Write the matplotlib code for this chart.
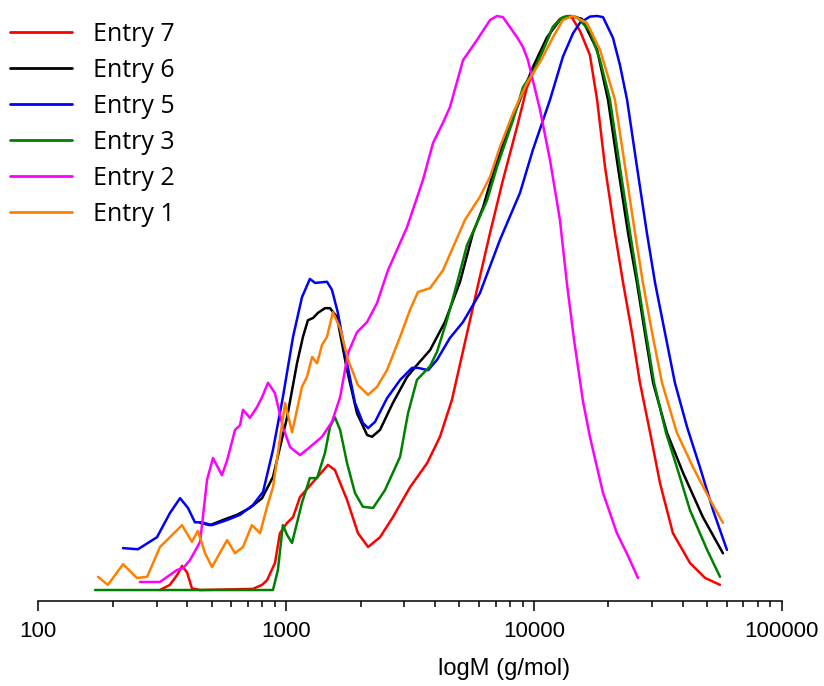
import matplotlib
matplotlib.use('Agg')
from matplotlib import pyplot as plt
from matplotlib.ticker import LogLocator, FixedLocator, NullFormatter
import numpy as np

# molar mass distributions, x = log10(M / g mol-1), y = normalised detector response
LABELS = ['Entry 7', 'Entry 6', 'Entry 5', 'Entry 3', 'Entry 2', 'Entry 1']
COLORS = ['#ff0000', '#000000', '#0000ff', '#008000', '#ff00ff', '#ff8000']

entry7_logm = [2.491, 2.531, 2.560, 2.580, 2.600, 2.620, 2.653, 2.866, 2.903, 2.923,
               2.955, 2.975, 3.004, 3.028, 3.056, 3.117, 3.169, 3.197, 3.246, 3.290,
               3.331, 3.379, 3.431, 3.500, 3.569, 3.621, 3.669, 3.710, 3.770, 3.823,
               3.875, 3.932, 3.972, 4.025, 4.077, 4.105, 4.134, 4.154, 4.186, 4.226,
               4.255, 4.287, 4.327, 4.360, 4.396, 4.428, 4.469, 4.509, 4.561, 4.630,
               4.691, 4.751]
entry7_w = [0, 0.009, 0.026, 0.042, 0.031, 0.003, 0, 0.002, 0.009, 0.017,
            0.047, 0.099, 0.117, 0.127, 0.162, 0.192, 0.218, 0.209, 0.157, 0.099,
            0.075, 0.092, 0.127, 0.179, 0.221, 0.267, 0.331, 0.409, 0.523, 0.622,
            0.714, 0.807, 0.876, 0.929, 0.981, 0.995, 1.0, 0.997, 0.974, 0.932,
            0.854, 0.737, 0.622, 0.535, 0.448, 0.361, 0.274, 0.186, 0.099, 0.047,
            0.021, 0.009]

entry6_logm = [2.653, 2.693, 2.745, 2.802, 2.854, 2.903, 2.947, 3.004, 3.044, 3.068,
               3.088, 3.109, 3.129, 3.157, 3.177, 3.205, 3.246, 3.286, 3.327, 3.347,
               3.379, 3.431, 3.488, 3.528, 3.581, 3.641, 3.702, 3.754, 3.795, 3.835,
               3.891, 3.944, 3.996, 4.053, 4.105, 4.146, 4.194, 4.255, 4.299, 4.339,
               4.380, 4.416, 4.448, 4.481, 4.537, 4.602, 4.682, 4.763]
entry6_w = [0.117, 0.113, 0.122, 0.131, 0.143, 0.160, 0.197, 0.301, 0.395, 0.441,
            0.470, 0.474, 0.483, 0.491, 0.491, 0.476, 0.383, 0.308, 0.270, 0.267,
            0.279, 0.326, 0.371, 0.392, 0.418, 0.467, 0.537, 0.622, 0.667, 0.726,
            0.796, 0.854, 0.911, 0.963, 0.993, 1.0, 0.995, 0.941, 0.854, 0.737,
            0.622, 0.535, 0.448, 0.361, 0.274, 0.204, 0.127, 0.064]

entry5_logm = [2.342, 2.402, 2.479, 2.531, 2.572, 2.604, 2.632, 2.661, 2.701, 2.762,
               2.814, 2.866, 2.907, 2.947, 2.987, 3.028, 3.064, 3.096, 3.117, 3.165,
               3.185, 3.209, 3.246, 3.278, 3.310, 3.331, 3.359, 3.407, 3.460, 3.508,
               3.532, 3.573, 3.609, 3.661, 3.714, 3.782, 3.863, 3.944, 3.996, 4.065,
               4.117, 4.158, 4.186, 4.226, 4.255, 4.279, 4.319, 4.347, 4.376, 4.416,
               4.456, 4.489, 4.529, 4.569, 4.618, 4.670, 4.723, 4.779]
entry5_w = [0.073, 0.071, 0.092, 0.134, 0.160, 0.143, 0.118, 0.118, 0.113, 0.122,
            0.131, 0.148, 0.171, 0.244, 0.336, 0.441, 0.510, 0.542, 0.535, 0.537,
            0.523, 0.483, 0.395, 0.326, 0.291, 0.282, 0.293, 0.334, 0.366, 0.387,
            0.387, 0.383, 0.401, 0.439, 0.467, 0.517, 0.610, 0.692, 0.767, 0.854,
            0.929, 0.970, 0.988, 0.999, 1.0, 0.998, 0.962, 0.915, 0.854, 0.737,
            0.622, 0.535, 0.448, 0.361, 0.284, 0.214, 0.139, 0.070]

entry3_logm = [2.229, 2.947, 2.967, 2.987, 3.004, 3.024, 3.064, 3.096, 3.125, 3.157,
               3.177, 3.197, 3.218, 3.246, 3.278, 3.310, 3.351, 3.399, 3.460, 3.492,
               3.528, 3.581, 3.609, 3.649, 3.690, 3.730, 3.770, 3.811, 3.851, 3.916,
               3.956, 3.996, 4.037, 4.077, 4.117, 4.150, 4.174, 4.226, 4.267, 4.307,
               4.347, 4.388, 4.420, 4.452, 4.485, 4.533, 4.577, 4.630, 4.699, 4.751]
entry3_w = [0, 0, 0.035, 0.113, 0.096, 0.082, 0.152, 0.195, 0.195, 0.239,
            0.284, 0.301, 0.279, 0.221, 0.169, 0.145, 0.143, 0.174, 0.232, 0.308,
            0.366, 0.390, 0.415, 0.470, 0.535, 0.601, 0.639, 0.679, 0.737, 0.819,
            0.876, 0.902, 0.941, 0.981, 0.998, 1.0, 0.998, 0.974, 0.923, 0.854,
            0.737, 0.622, 0.535, 0.448, 0.361, 0.274, 0.214, 0.139, 0.070, 0.023]

entry2_logm = [2.410, 2.491, 2.560, 2.584, 2.612, 2.653, 2.681, 2.705, 2.741, 2.762,
               2.794, 2.814, 2.826, 2.854, 2.883, 2.903, 2.927, 2.955, 2.987, 3.016,
               3.056, 3.096, 3.145, 3.185, 3.218, 3.250, 3.286, 3.327, 3.367, 3.411,
               3.488, 3.552, 3.593, 3.633, 3.661, 3.714, 3.770, 3.823, 3.851, 3.875,
               3.932, 3.956, 3.976, 4.025, 4.065, 4.105, 4.134, 4.162, 4.198, 4.226,
               4.279, 4.335, 4.376, 4.420]
entry2_w = [0.014, 0.014, 0.035, 0.038, 0.052, 0.084, 0.192, 0.230, 0.200, 0.226,
            0.279, 0.287, 0.314, 0.300, 0.319, 0.336, 0.361, 0.343, 0.284, 0.249,
            0.235, 0.249, 0.267, 0.293, 0.336, 0.413, 0.449, 0.467, 0.500, 0.557,
            0.632, 0.714, 0.779, 0.814, 0.841, 0.923, 0.958, 0.993, 1.0, 0.998,
            0.963, 0.946, 0.923, 0.836, 0.749, 0.645, 0.531, 0.436, 0.329, 0.267,
            0.169, 0.099, 0.063, 0.021]

entry1_logm = [2.241, 2.281, 2.342, 2.398, 2.439, 2.491, 2.531, 2.580, 2.620, 2.644,
               2.673, 2.701, 2.762, 2.794, 2.826, 2.862, 2.895, 2.923, 2.947, 2.967,
               2.996, 3.024, 3.044, 3.064, 3.084, 3.105, 3.125, 3.145, 3.165, 3.189,
               3.218, 3.250, 3.290, 3.331, 3.367, 3.407, 3.460, 3.500, 3.532, 3.581,
               3.633, 3.722, 3.782, 3.823, 3.863, 3.916, 3.972, 4.025, 4.077, 4.117,
               4.158, 4.214, 4.267, 4.327, 4.368, 4.408, 4.440, 4.477, 4.517, 4.577,
               4.642, 4.711, 4.763]
entry1_w = [0.023, 0.009, 0.045, 0.021, 0.023, 0.075, 0.092, 0.113, 0.084, 0.103,
            0.064, 0.040, 0.087, 0.064, 0.075, 0.113, 0.099, 0.145, 0.179, 0.239,
            0.326, 0.275, 0.314, 0.354, 0.371, 0.406, 0.395, 0.427, 0.441, 0.484,
            0.456, 0.401, 0.357, 0.340, 0.354, 0.383, 0.441, 0.488, 0.519, 0.526,
            0.557, 0.645, 0.685, 0.720, 0.772, 0.831, 0.883, 0.920, 0.963, 0.993,
            1.0, 0.988, 0.941, 0.854, 0.737, 0.622, 0.535, 0.448, 0.361, 0.274,
            0.214, 0.157, 0.117]

SERIES = [(entry7_logm, entry7_w), (entry6_logm, entry6_w), (entry5_logm, entry5_w),
          (entry3_logm, entry3_w), (entry2_logm, entry2_w), (entry1_logm, entry1_w)]


def main():
    fig = plt.figure(figsize=(8.24, 6.86), dpi=100)
    ax = fig.add_axes([38.3 / 824, 85.3 / 686, 743.4 / 824, 584.7 / 686])

    for (logm, w), label, color in zip(SERIES, LABELS, COLORS):
        ax.plot(10 ** np.array(logm), w, color=color, lw=1.8, label=label,
                clip_on=False, solid_joinstyle='round', solid_capstyle='round')

    ax.set_xscale('log')
    ax.set_xlim(100, 100000)
    ax.set_ylim(-0.0186, 1.0)

    for side in ['left', 'top', 'right']:
        ax.spines[side].set_visible(False)
    ax.spines['bottom'].set_linewidth(1.1)
    ax.set_yticks([])

    ax.xaxis.set_major_locator(FixedLocator([100, 1000, 10000, 100000]))
    ax.xaxis.set_minor_locator(LogLocator(base=10, subs=np.arange(2, 10), numticks=20))
    ax.xaxis.set_minor_formatter(NullFormatter())
    ax.set_xticklabels(['100', '1000', '10000', '100000'])
    ax.tick_params(axis='x', which='major', length=7.5, width=1.1, pad=7,
                   labelsize=16, direction='out')
    ax.tick_params(axis='x', which='minor', length=4.3, width=1.1, direction='out')
    for t in ax.get_xticklabels():
        t.set_fontfamily('Liberation Sans')

    fig.text(504 / 824, 1 - 669 / 686, 'logM (g/mol)', ha='center', va='center',
             fontsize=17, family='Liberation Sans')

    leg = ax.legend(loc='upper left', bbox_to_anchor=(10 / 824, 1 - 22 / 686),
                    bbox_transform=fig.transFigure, frameon=False, borderpad=0,
                    borderaxespad=0, handlelength=2.48, handletextpad=0.84,
                    labelspacing=0.44, prop={'family': 'Open Sans', 'size': 18})
    for line in leg.get_lines():
        line.set_linewidth(2.0)

    fig.savefig('out.png', dpi=100)


if __name__ == '__main__':
    main()
